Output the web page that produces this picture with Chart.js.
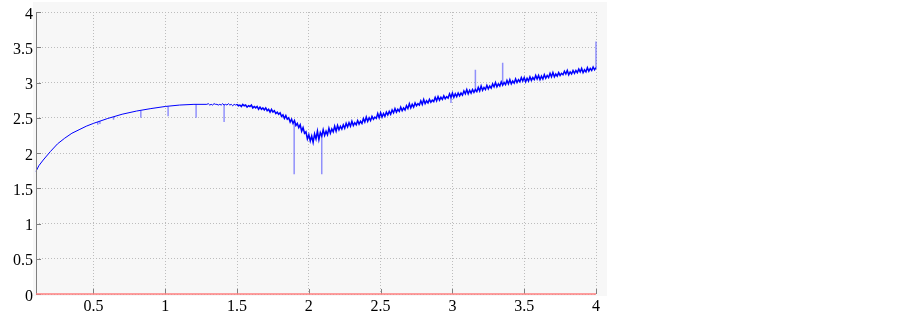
<!DOCTYPE html>
<html>
<head>
<meta charset="utf-8">
<script src="https://cdn.jsdelivr.net/npm/chart.js@4/dist/chart.umd.min.js"></script>
<style>
  html, body { margin: 0; padding: 0; background: #fff; }
  #wrap { width: 903px; height: 318px; position: relative; }
</style>
</head>
<body>
<div id="wrap"><canvas id="c" width="903" height="318"></canvas></div>
<script>
'use strict';

// ── Data ───────────────────────────────────────────────────
// smooth rising part of the curve
const SMOOTH_X = [0.10, 0.12, 0.15, 0.20, 0.25, 0.30, 0.35, 0.40, 0.45, 0.50, 0.60, 0.70, 0.80, 0.90, 1.00, 1.10, 1.20, 1.29];
const SMOOTH_Y = [1.74, 1.82, 1.90, 2.02, 2.13, 2.21, 2.28, 2.33, 2.38, 2.42, 2.49, 2.55, 2.595, 2.63, 2.66, 2.68, 2.69, 2.69];

// noisy part, sampled every 0.01 from x = 1.30 to 4.00
const NOISY_X_START = 1.30;
const NOISY_X_STEP = 0.01;
const NOISY_Y = [
  2.70, 2.68, 2.69, 2.68, 2.70, 2.69, 2.69, 2.68, 2.69, 2.68,
  2.70, 2.68, 2.69, 2.68, 2.70, 2.68, 2.69, 2.67, 2.69, 2.68,
  2.69, 2.67, 2.68, 2.66, 2.69, 2.67, 2.68, 2.65, 2.67, 2.66,
  2.68, 2.64, 2.66, 2.64, 2.66, 2.62, 2.65, 2.62, 2.64, 2.61,
  2.64, 2.60, 2.62, 2.58, 2.62, 2.58, 2.60, 2.56, 2.58, 2.55,
  2.57, 2.52, 2.54, 2.49, 2.53, 2.48, 2.50, 2.44, 2.48, 2.42,
  2.46, 2.39, 2.42, 2.36, 2.40, 2.31, 2.36, 2.28, 2.30, 2.20,
  2.26, 2.17, 2.24, 2.15, 2.27, 2.20, 2.31, 2.19, 2.29, 2.24,
  2.33, 2.25, 2.31, 2.26, 2.35, 2.28, 2.34, 2.30, 2.38, 2.31,
  2.39, 2.33, 2.38, 2.34, 2.40, 2.35, 2.42, 2.37, 2.43, 2.38,
  2.45, 2.39, 2.43, 2.40, 2.46, 2.41, 2.45, 2.42, 2.49, 2.44,
  2.51, 2.45, 2.50, 2.46, 2.52, 2.48, 2.51, 2.49, 2.56, 2.50,
  2.57, 2.51, 2.56, 2.52, 2.58, 2.54, 2.59, 2.55, 2.61, 2.57,
  2.63, 2.58, 2.62, 2.59, 2.65, 2.60, 2.64, 2.61, 2.67, 2.63,
  2.70, 2.64, 2.69, 2.65, 2.71, 2.67, 2.70, 2.68, 2.74, 2.69,
  2.76, 2.70, 2.74, 2.71, 2.76, 2.72, 2.75, 2.73, 2.79, 2.74,
  2.80, 2.75, 2.79, 2.76, 2.81, 2.77, 2.80, 2.78, 2.84, 2.79,
  2.85, 2.79, 2.84, 2.80, 2.85, 2.81, 2.85, 2.82, 2.88, 2.84,
  2.90, 2.84, 2.89, 2.85, 2.90, 2.86, 2.90, 2.87, 2.93, 2.88,
  2.95, 2.89, 2.93, 2.90, 2.96, 2.91, 2.95, 2.92, 2.98, 2.94,
  3.00, 2.94, 2.98, 2.95, 3.01, 2.96, 3.00, 2.97, 3.03, 2.98,
  3.04, 2.98, 3.02, 2.99, 3.05, 3.00, 3.04, 3.01, 3.07, 3.02,
  3.07, 3.01, 3.06, 3.02, 3.08, 3.03, 3.07, 3.04, 3.10, 3.05,
  3.10, 3.04, 3.09, 3.05, 3.11, 3.06, 3.10, 3.07, 3.13, 3.08,
  3.14, 3.08, 3.12, 3.09, 3.14, 3.10, 3.13, 3.11, 3.16, 3.12,
  3.17, 3.11, 3.15, 3.12, 3.17, 3.13, 3.17, 3.14, 3.19, 3.15,
  3.20, 3.14, 3.18, 3.15, 3.21, 3.16, 3.20, 3.17, 3.22, 3.18,
  3.21
];

// isolated spikes: position, level of the curve, tip of the spike
const SPIKE_X    = [0.53, 0.545, 0.64, 0.83, 1.02, 1.215, 1.41, 1.898, 2.09, 2.99, 3.16, 3.35, 4.00];
const SPIKE_BASE = [2.44, 2.45, 2.51, 2.60, 2.66, 2.69, 2.69, 2.42, 2.28, 2.81, 2.89, 2.98, 3.20];
const SPIKE_TIP  = [2.40, 2.41, 2.47, 2.50, 2.52, 2.50, 2.44, 1.70, 1.70, 2.71, 3.18, 3.28, 3.58];

const X_TICKS = [0.5, 1, 1.5, 2, 2.5, 3, 3.5, 4];
const Y_TICKS = [0, 0.5, 1, 1.5, 2, 2.5, 3, 3.5, 4];

// ── Build datasets ─────────────────────────────────────────
const mainPoints = SMOOTH_X.map((x, i) => ({ x, y: SMOOTH_Y[i] }))
  .concat(NOISY_Y.map((y, i) => ({ x: +(NOISY_X_START + i * NOISY_X_STEP).toFixed(2), y })));

const spikePoints = [];
SPIKE_X.forEach((x, i) => {
  spikePoints.push({ x, y: SPIKE_BASE[i] }, { x, y: SPIKE_TIP[i] }, { x, y: null });
});

const LABEL_FONT = '16px "Liberation Serif", "Times New Roman", serif';

// ── Frame plugin: background, axis lines, inward ticks, labels ─
const framePlugin = {
  id: 'frame',
  beforeDraw(chart) {
    const { ctx, chartArea: a } = chart;
    ctx.save();
    ctx.fillStyle = '#f7f7f7';
    ctx.fillRect(a.left - 3, a.top - 10, a.right - a.left + 14, a.bottom - a.top + 12);
    ctx.restore();
  },
  afterDatasetsDraw(chart) {
    const { ctx, chartArea: a, scales } = chart;
    ctx.save();
    ctx.strokeStyle = '#808080';
    ctx.lineWidth = 1;
    ctx.beginPath();
    ctx.moveTo(a.left + 0.5, a.top);
    ctx.lineTo(a.left + 0.5, a.bottom);
    Y_TICKS.forEach(v => {
      const y = Math.round(scales.y.getPixelForValue(v)) + 0.5;
      ctx.moveTo(a.left, y);
      ctx.lineTo(a.left + 5, y);
    });
    X_TICKS.forEach(v => {
      const x = Math.round(scales.x.getPixelForValue(v)) + 0.5;
      ctx.moveTo(x, a.bottom);
      ctx.lineTo(x, a.bottom - 5);
    });
    ctx.stroke();
    ctx.strokeStyle = '#ff7f7f';
    ctx.lineWidth = 1.5;
    ctx.beginPath();
    ctx.moveTo(a.left, a.bottom);
    ctx.lineTo(a.right, a.bottom);
    ctx.stroke();

    // tick labels (serif, drawn directly)
    ctx.font = LABEL_FONT;
    ctx.fillStyle = '#000';
    ctx.textBaseline = 'alphabetic';
    ctx.textAlign = 'right';
    Y_TICKS.forEach(v => {
      ctx.fillText(String(v), a.left - 3, scales.y.getPixelForValue(v) + 6.5);
    });
    ctx.textAlign = 'center';
    X_TICKS.forEach(v => {
      ctx.fillText(String(v), scales.x.getPixelForValue(v), a.bottom + 17);
    });
    ctx.restore();
  }
};

function draw() {
  new Chart(document.getElementById('c'), {
    type: 'line',
    data: {
      datasets: [
        {
          data: mainPoints,
          borderColor: '#0000ff',
          borderWidth: 1,
          pointRadius: 0,
          tension: 0,
          clip: 4,
          segment: { borderWidth: c => (c.p0.parsed.x >= 1.5 ? 1.5 : 1) },
        },
        {
          data: spikePoints,
          borderColor: 'rgba(60,60,255,0.55)',
          borderWidth: 1.5,
          pointRadius: 0,
          spanGaps: false,
          clip: 4,
        },
      ],
    },
    options: {
      responsive: false,
      animation: false,
      events: [],
      layout: { padding: { left: 0, top: 12, right: 307, bottom: 0 } },
      plugins: { legend: { display: false }, tooltip: { enabled: false } },
      scales: {
        x: {
          type: 'linear',
          min: 0.1,
          max: 4,
          afterBuildTicks: s => { s.ticks = X_TICKS.map(value => ({ value })); },
          afterFit: s => { s.height = 24; },
          ticks: { display: false },
          grid: { color: '#bdbdbd', lineWidth: 1, drawTicks: false },
          border: { display: false, dash: [1, 2] },
        },
        y: {
          type: 'linear',
          min: 0,
          max: 4,
          afterBuildTicks: s => { s.ticks = Y_TICKS.map(value => ({ value })); },
          afterFit: s => { s.width = 36; },
          ticks: { display: false },
          grid: { color: '#bdbdbd', lineWidth: 1, drawTicks: false },
          border: { display: false, dash: [1, 2] },
        },
      },
    },
    plugins: [framePlugin],
  });
}

document.fonts.load('16px "Liberation Serif"').then(draw, draw);
</script>
</body>
</html>
